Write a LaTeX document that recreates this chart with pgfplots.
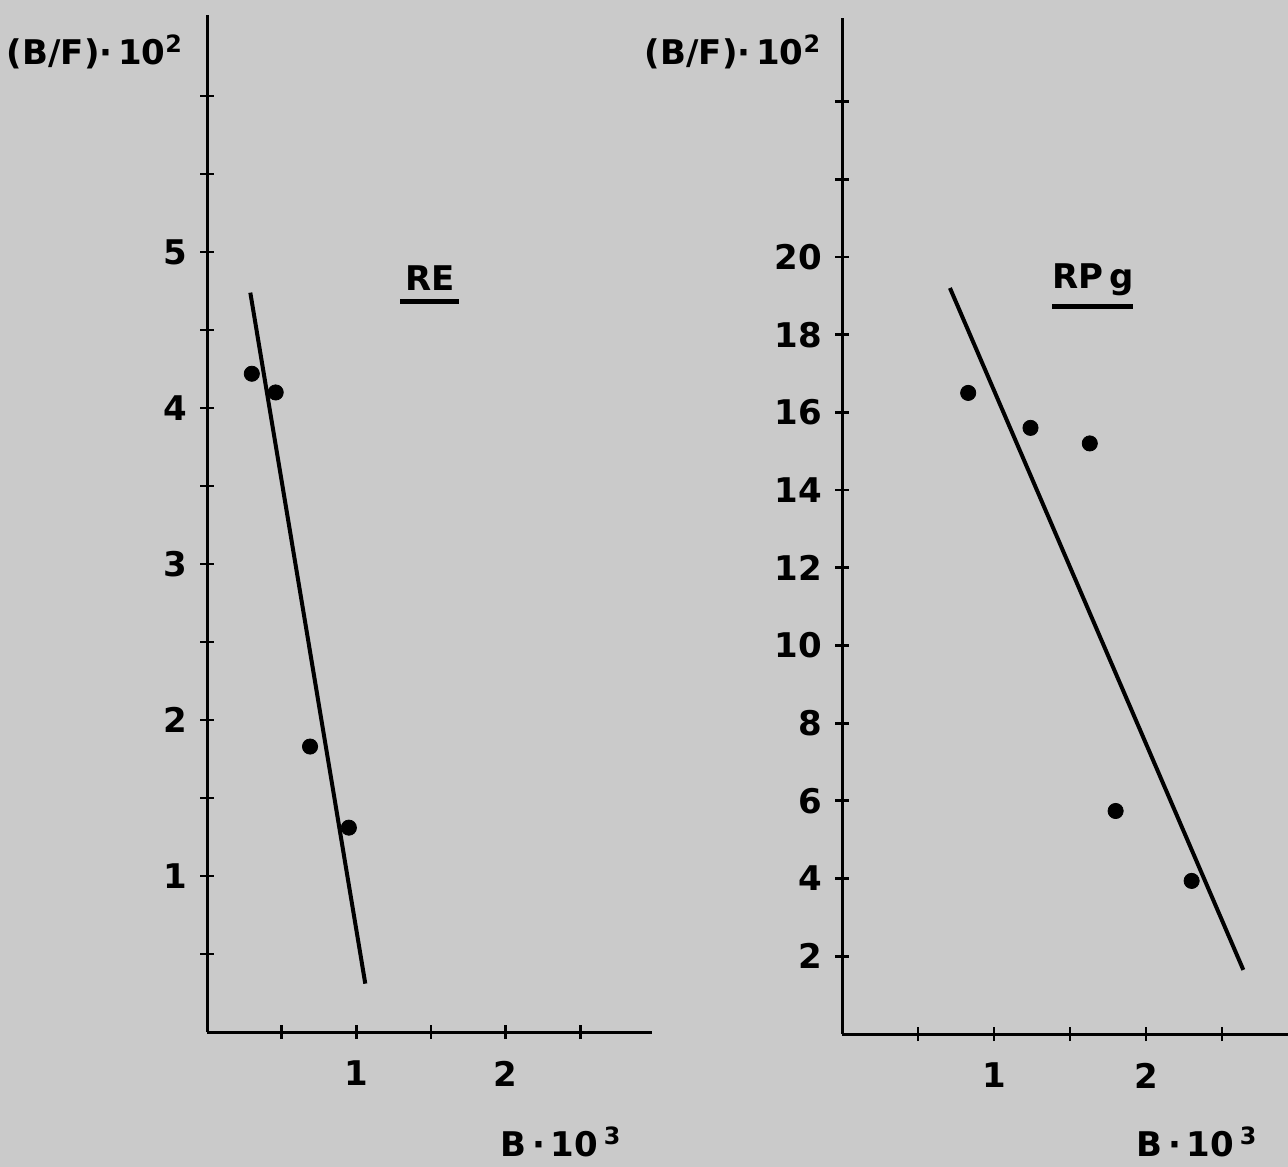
\documentclass[border=0pt]{standalone}
\usepackage{pgfplots}
\pgfplotsset{compat=1.18}
\usepackage{fontspec}
\setmainfont{DejaVu Sans}
\definecolor{bg}{RGB}{202,202,202}
\begin{document}
\begin{tikzpicture}
\useasboundingbox (0,0) rectangle (644pt,583pt);
\fill[bg] (-5pt,-5pt) rectangle (650pt,590pt);
\pgfplotsset{
  myaxis/.style={
    scale only axis,
    axis x line=bottom, axis y line=left,
    axis line style={-, line width=1.5pt},
    every tick/.style={line width=1.4pt, black},
    major tick length=7pt,
    tick align=center,
    /pgf/number format/assume math mode=true,
    ticklabel style={font=\fontsize{17}{20}\selectfont\bfseries},
    clip=false,
    anchor=south west,
  }
}
\begin{axis}[myaxis, at={(103.5pt,67pt)}, width=222.5pt, height=508.5pt,
  xmin=0, xmax=2.98, ymin=0, ymax=6.52,
  xtick={0.5,1,1.5,2,2.5}, xticklabels={,1,,2,},
  ytick={0.5,1,1.5,2,2.5,3,3.5,4,4.5,5,5.5,6}, yticklabels={,1,,2,,3,,4,,5,,},
  yticklabel style={xshift=-3pt}, xticklabel style={yshift=-7.5pt}]
\addplot[only marks, mark=*, mark size=3.8pt, black] coordinates {(0.30,4.22)(0.46,4.10)(0.69,1.83)(0.95,1.31)};
\addplot[no marks, line width=2pt, black] coordinates {(0.29,4.74)(1.06,0.31)};
\end{axis}
\begin{axis}[myaxis, at={(421pt,66pt)}, width=223pt, height=508pt,
  xmin=0, xmax=2.934, ymin=0, ymax=26.15,
  xtick={0.5,1,1.5,2,2.5}, xticklabels={,1,,2,},
  ytick={2,4,6,8,10,12,14,16,18,20,22,24}, yticklabels={2,4,6,8,10,12,14,16,18,20,,},
  yticklabel style={xshift=-3pt}, xticklabel style={yshift=-7.5pt}]
\addplot[only marks, mark=*, mark size=3.8pt, black] coordinates {(0.83,16.5)(1.24,15.6)(1.63,15.2)(1.80,5.74)(2.30,3.94)};
\addplot[no marks, line width=2pt, black] coordinates {(0.71,19.2)(2.64,1.65)};
\end{axis}
\begin{scope}[font=\fontsize{17}{20}\selectfont\bfseries]
\node at (47.5pt,557pt) {(B/F)·\,10\textsuperscript{2}};
\node at (366.5pt,557pt) {(B/F)·\,10\textsuperscript{2}};
\node at (280.5pt,12pt) {B\,·\,10\,\textsuperscript{3}};
\node at (598.5pt,12pt) {B\,·\,10\,\textsuperscript{3}};
\node at (215pt,444pt) {RE};
\draw[line width=2.5pt] (200pt,432pt) -- (229.5pt,432pt);
\node at (546.5pt,443pt) {RP\,g};
\draw[line width=2.5pt] (526pt,429.5pt) -- (566.5pt,429.5pt);
\end{scope}
\end{tikzpicture}
\end{document}
